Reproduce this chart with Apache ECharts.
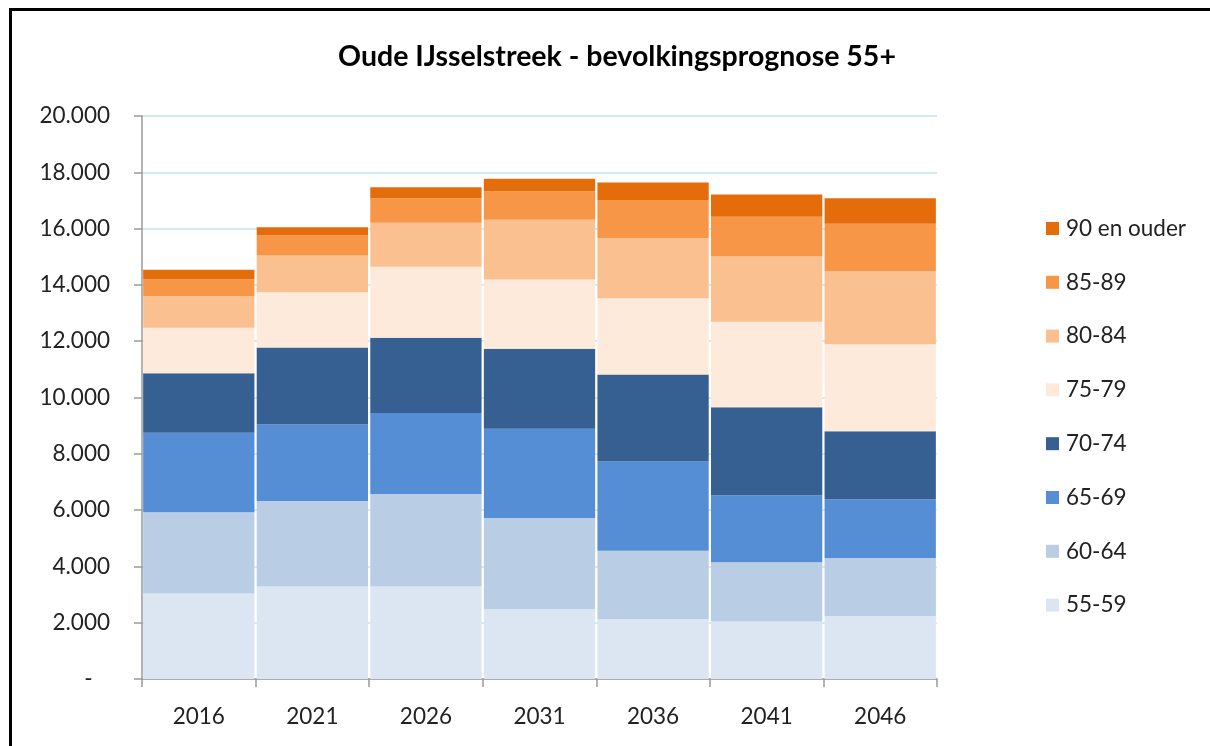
<!DOCTYPE html>
<html>
	<head>
		<meta charset="UTF-8" />
		<script src="https://cdn.jsdelivr.net/npm/echarts@6/dist/echarts.min.js"></script>
		<title>Oude IJsselstreek</title>
		<style>
			body {
				margin: 0;
				background-color: #ffffff;
			}
			#wrap {
				position: relative;
				width: 1210px;
				height: 746px;
			}
			#chart {
				width: 1210px;
				height: 746px;
			}
			/* zwarte kader links en boven, zoals in het origineel */
			#frame {
				position: absolute;
				left: 9px;
				top: 8px;
				right: 0;
				bottom: 0;
				border-top: 3px solid #000;
				border-left: 3px solid #000;
				pointer-events: none;
			}
		</style>
	</head>

	<body>
		<div id="wrap">
			<div id="chart"></div>
			<div id="frame"></div>
		</div>
	</body>
</html>

<script>
	var jaren = ['2016', '2021', '2026', '2031', '2036', '2041', '2046']
	var groepen = ['55-59', '60-64', '65-69', '70-74', '75-79', '80-84', '85-89', '90 en ouder']
	var kleuren = ['#DCE6F2', '#B9CDE5', '#558ED5', '#376092', '#FDEADA', '#FAC090', '#F79646', '#E46C0A']

	// aantallen per leeftijdsgroep
	var g55_59 = [3040, 3290, 3290, 2490, 2130, 2040, 2240]
	var g60_64 = [2880, 3030, 3280, 3230, 2430, 2105, 2060]
	var g65_69 = [2830, 2720, 2880, 3170, 3170, 2380, 2085]
	var g70_74 = [2110, 2735, 2675, 2840, 3090, 3125, 2415]
	var g75_79 = [1620, 1965, 2520, 2465, 2710, 3040, 3090]
	var g80_84 = [1115, 1305, 1565, 2120, 2130, 2320, 2605]
	var g85_89 = [605, 710, 865, 1010, 1360, 1410, 1680]
	var g90plus = [340, 295, 390, 450, 615, 795, 900]

	var waarden = [g55_59, g60_64, g65_69, g70_74, g75_79, g80_84, g85_89, g90plus]

	var font = 'Lato, "Open Sans", sans-serif'

	function formatGetal(v) {
		if (v === 0) return '-   '
		return String(v).replace(/\B(?=(\d{3})+(?!\d))/g, '.')
	}

	var series = []
	for (var i = 0; i < groepen.length; i++) {
		series.push({
			name: groepen[i],
			type: 'bar',
			stack: 'totaal',
			barCategoryGap: '2%',
			itemStyle: { color: kleuren[i] },
			data: waarden[i],
		})
	}

	var chart = echarts.init(document.getElementById('chart'))
	chart.setOption({
		animation: false,
		title: {
			text: 'Oude IJsselstreek - bevolkingsprognose 55+',
			left: 612,
			textAlign: 'center',
			top: 37,
			textStyle: { fontFamily: font, fontSize: 28.5, fontWeight: 'bold', color: '#000' },
		},
		legend: {
			orient: 'vertical',
			left: 1041,
			top: 212,
			itemWidth: 13,
			itemHeight: 13,
			itemGap: 30.8,
			icon: 'rect',
			data: groepen.slice().reverse(),
			textStyle: { fontFamily: font, fontSize: 22.5, color: '#222', lineHeight: 22, padding: [0, 0, 0, 2] },
		},
		grid: { left: 142, right: 273, top: 116, bottom: 67 },
		xAxis: {
			type: 'category',
			data: jaren,
			axisLine: { lineStyle: { color: '#9a9a9a', width: 1.5 } },
			axisTick: { show: true, length: 8, lineStyle: { color: '#9a9a9a', width: 1.5 } },
			axisLabel: { fontFamily: font, fontSize: 22.5, color: '#222', margin: 26 },
		},
		yAxis: {
			type: 'value',
			min: 0,
			max: 20000,
			interval: 2000,
			axisLine: { show: true, lineStyle: { color: '#9a9a9a', width: 1.5 } },
			axisTick: { show: true, length: 8, lineStyle: { color: '#9a9a9a', width: 1.5 } },
			axisLabel: { fontFamily: font, fontSize: 22.5, color: '#222', margin: 32, formatter: formatGetal },
			splitLine: { lineStyle: { color: '#C3E3EE', width: 1.5 } },
		},
		series: series,
	})
</script>
